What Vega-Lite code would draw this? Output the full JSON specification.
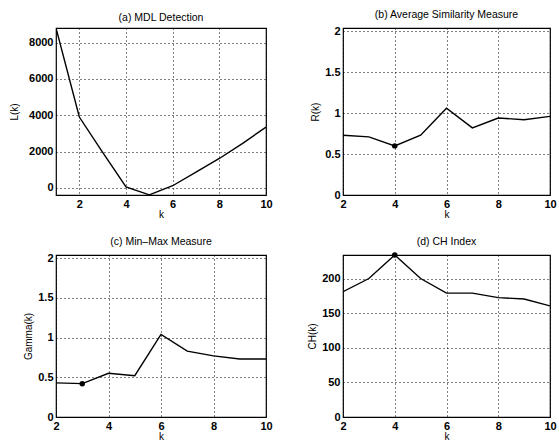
{
  "$schema": "https://vega.github.io/schema/vega-lite/v6.json",
  "background": "white",
  "padding": {"left": 8, "top": 9, "right": 5, "bottom": 5},
  "datasets": {
    "mdl": [
      {"k": 1, "L": 8800, "best": 0},
      {"k": 2, "L": 3900, "best": 0},
      {"k": 3, "L": 1950, "best": 0},
      {"k": 4, "L": 50, "best": 0},
      {"k": 5, "L": -380, "best": 0},
      {"k": 6, "L": 120, "best": 0},
      {"k": 7, "L": 870, "best": 0},
      {"k": 8, "L": 1620, "best": 0},
      {"k": 9, "L": 2450, "best": 0},
      {"k": 10, "L": 3350, "best": 0}
    ],
    "avg": [
      {"k": 2, "R": 0.73, "best": 0},
      {"k": 3, "R": 0.71, "best": 0},
      {"k": 4, "R": 0.6, "best": 1},
      {"k": 5, "R": 0.73, "best": 0},
      {"k": 6, "R": 1.06, "best": 0},
      {"k": 7, "R": 0.82, "best": 0},
      {"k": 8, "R": 0.94, "best": 0},
      {"k": 9, "R": 0.92, "best": 0},
      {"k": 10, "R": 0.96, "best": 0}
    ],
    "minmax": [
      {"k": 2, "G": 0.43, "best": 0},
      {"k": 3, "G": 0.42, "best": 1},
      {"k": 4, "G": 0.55, "best": 0},
      {"k": 5, "G": 0.52, "best": 0},
      {"k": 6, "G": 1.04, "best": 0},
      {"k": 7, "G": 0.83, "best": 0},
      {"k": 8, "G": 0.77, "best": 0},
      {"k": 9, "G": 0.73, "best": 0},
      {"k": 10, "G": 0.73, "best": 0}
    ],
    "ch": [
      {"k": 2, "CH": 181, "best": 0},
      {"k": 3, "CH": 200, "best": 0},
      {"k": 4, "CH": 234, "best": 1},
      {"k": 5, "CH": 200, "best": 0},
      {"k": 6, "CH": 179, "best": 0},
      {"k": 7, "CH": 179, "best": 0},
      {"k": 8, "CH": 172.5, "best": 0},
      {"k": 9, "CH": 170.5, "best": 0},
      {"k": 10, "CH": 160.5, "best": 0}
    ]
  },
  "columns": 2,
  "spacing": {"column": 77, "row": 60},
  "bounds": "flush",
  "concat": [
    {
      "width": 210, "height": 167,
      "title": "(a) MDL Detection",
      "data": {"name": "mdl"},
      "layer": [
        {
          "mark": {"type": "line", "color": "black", "strokeWidth": 1.4, "clip": true},
          "encoding": {
            "x": {"field": "k", "type": "quantitative", "scale": {"domain": [1, 10], "nice": false, "zero": false},
                  "axis": {"values": [2, 4, 6, 8, 10], "title": "k"}},
            "y": {"field": "L", "type": "quantitative", "scale": {"domain": [-390, 8800], "nice": false, "zero": false},
                  "axis": {"values": [0, 2000, 4000, 6000, 8000], "format": "d", "title": "L(k)", "titlePadding": 9}}
          }
        }
      ]
    },
    {
      "width": 207, "height": 167,
      "title": "(b) Average Similarity Measure",
      "data": {"name": "avg"},
      "layer": [
        {
          "mark": {"type": "line", "color": "black", "strokeWidth": 1.4, "clip": true},
          "encoding": {
            "x": {"field": "k", "type": "quantitative", "scale": {"domain": [2, 10], "nice": false, "zero": false},
                  "axis": {"values": [2, 4, 6, 8, 10], "title": "k"}},
            "y": {"field": "R", "type": "quantitative", "scale": {"domain": [0, 2.04], "nice": false},
                  "axis": {"values": [0, 0.5, 1, 1.5, 2], "format": "~g", "title": "R(k)"}}
          }
        },
        {
          "transform": [{"filter": "datum.best == 1"}],
          "mark": {"type": "point", "filled": true, "color": "black", "size": 30, "opacity": 1},
          "encoding": {
            "x": {"field": "k", "type": "quantitative"},
            "y": {"field": "R", "type": "quantitative"}
          }
        }
      ]
    },
    {
      "width": 210, "height": 162,
      "title": "(c) Min\u2013Max Measure",
      "data": {"name": "minmax"},
      "layer": [
        {
          "mark": {"type": "line", "color": "black", "strokeWidth": 1.4, "clip": true},
          "encoding": {
            "x": {"field": "k", "type": "quantitative", "scale": {"domain": [2, 10], "nice": false, "zero": false},
                  "axis": {"values": [2, 4, 6, 8, 10], "title": "k"}},
            "y": {"field": "G", "type": "quantitative", "scale": {"domain": [0, 2.04], "nice": false},
                  "axis": {"values": [0, 0.5, 1, 1.5, 2], "format": "~g", "title": "Gamma(k)"}}
          }
        },
        {
          "transform": [{"filter": "datum.best == 1"}],
          "mark": {"type": "point", "filled": true, "color": "black", "size": 30, "opacity": 1},
          "encoding": {
            "x": {"field": "k", "type": "quantitative"},
            "y": {"field": "G", "type": "quantitative"}
          }
        }
      ]
    },
    {
      "width": 207, "height": 162,
      "title": "(d) CH Index",
      "data": {"name": "ch"},
      "layer": [
        {
          "mark": {"type": "line", "color": "black", "strokeWidth": 1.4, "clip": true},
          "encoding": {
            "x": {"field": "k", "type": "quantitative", "scale": {"domain": [2, 10], "nice": false, "zero": false},
                  "axis": {"values": [2, 4, 6, 8, 10], "title": "k"}},
            "y": {"field": "CH", "type": "quantitative", "scale": {"domain": [0, 234], "nice": false},
                  "axis": {"values": [0, 50, 100, 150, 200], "title": "CH(k)"}}
          }
        },
        {
          "transform": [{"filter": "datum.best == 1"}],
          "mark": {"type": "point", "filled": true, "color": "black", "size": 30, "opacity": 1},
          "encoding": {
            "x": {"field": "k", "type": "quantitative"},
            "y": {"field": "CH", "type": "quantitative"}
          }
        }
      ]
    }
  ],
  "config": {
    "font": "Liberation Sans",
    "view": {"stroke": "black", "strokeWidth": 1.2},
    "title": {"fontSize": 10.5, "fontWeight": "normal", "color": "black", "offset": 5, "font": "Liberation Sans"},
    "axis": {
      "grid": true,
      "gridColor": "black",
      "gridDash": [1, 3],
      "gridWidth": 1,
      "gridOpacity": 1,
      "domain": false,
      "ticks": false,
      "labelPadding": 3,
      "labelFontSize": 11,
      "labelFontWeight": "bold",
      "labelColor": "black",
      "labelFlush": false,
      "labelOverlap": false,
      "titleFontSize": 10,
      "titleFontWeight": "normal",
      "titleColor": "black"
    },
    "axisX": {"titlePadding": 0, "titleColor": "black"},
    "axisY": {"titlePadding": 4, "titleColor": "black"}
  }
}
